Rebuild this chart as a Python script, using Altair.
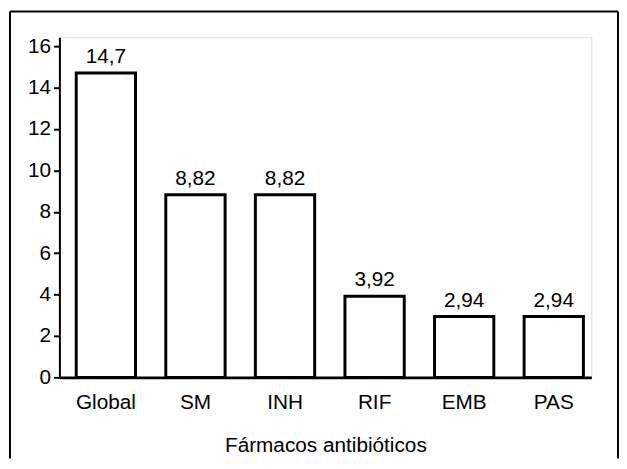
import altair as alt
import pandas as pd

categories = ["Global", "SM", "INH", "RIF", "EMB", "PAS"]
values = [14.7, 8.82, 8.82, 3.92, 2.94, 2.94]
labels = ["14,7", "8,82", "8,82", "3,92", "2,94", "2,94"]
y_ticks = [0, 2, 4, 6, 8, 10, 12, 14, 16]

df = pd.DataFrame({"cat": categories, "val": values, "lab": labels})
one = pd.DataFrame({"a": [0]})

W, H = 538, 344
FONT = "Liberation Sans"
FS = 21

xs = alt.Scale(domain=categories, paddingInner=0.338, paddingOuter=0.138, align=0.68)
ys = alt.Scale(domain=[0, 16.43], nice=False, zero=True)

bars = alt.Chart(df).mark_bar(fill="white", stroke="black", strokeWidth=3).encode(
    x=alt.X("cat:N", scale=xs, sort=categories,
            axis=alt.Axis(title="Fármacos antibióticos", labelAngle=0, ticks=False,
                          domainWidth=3, domainColor="black", labelPadding=14,
                          titlePadding=23, labelFontSize=FS, titleFontSize=FS,
                          labelColor="black", titleColor="black",
                          labelFont=FONT, titleFont=FONT, titleFontWeight="normal")),
    y=alt.Y("val:Q", scale=ys,
            axis=alt.Axis(title=None, values=y_ticks, grid=False, tickSize=6, tickWidth=2,
                          tickColor="black", domainColor="black", domainWidth=2,
                          labelFontSize=FS, labelColor="black", labelFont=FONT,
                          labelPadding=3)),
)

text = alt.Chart(df).mark_text(baseline="bottom", dy=-6, fontSize=FS, font=FONT,
                               color="black").encode(
    x=alt.X("cat:N", scale=xs, sort=categories),
    y=alt.Y("val:Q", scale=ys),
    text="lab:N",
)

border_kw = dict(color="black", strokeWidth=2)
top = alt.Chart(one).mark_rule(**border_kw).encode(
    x=alt.value(-50), x2=alt.value(565), y=alt.value(-26))
left = alt.Chart(one).mark_rule(**border_kw).encode(
    x=alt.value(-50), y=alt.value(-26), y2=alt.value(H + 82))
right = alt.Chart(one).mark_rule(**border_kw).encode(
    x=alt.value(565), y=alt.value(-26), y2=alt.value(H + 82))

chart = alt.layer(bars, text, top, left, right).properties(
    width=W, height=H,
    padding={"left": 1, "top": 0, "right": 0, "bottom": 0},
).configure_view(stroke=None).configure(background="white")

chart.save("out.html", embed_options={"renderer": "svg", "actions": False})
